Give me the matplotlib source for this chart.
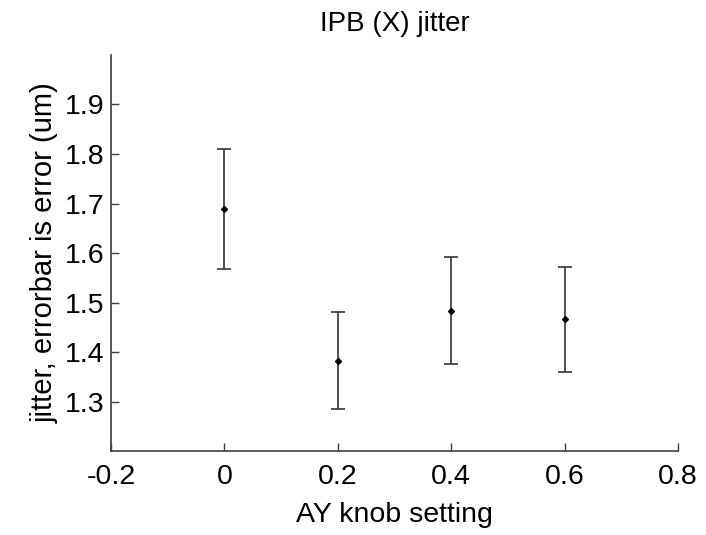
import matplotlib
matplotlib.use("Agg")
import matplotlib.pyplot as plt

knob = [0.0, 0.2, 0.4, 0.6]
jitter = [1.689, 1.382, 1.483, 1.466]
err = [0.121, 0.098, 0.108, 0.106]
xticks = [-0.2, 0, 0.2, 0.4, 0.6, 0.8]
xticklabels = ["-0.2", "0", "0.2", "0.4", "0.6", "0.8"]
yticks = [1.3, 1.4, 1.5, 1.6, 1.7, 1.8, 1.9]
yticklabels = ["1.3", "1.4", "1.5", "1.6", "1.7", "1.8", "1.9"]

plt.rcParams['font.family'] = ['Liberation Sans', 'DejaVu Sans']

fig = plt.figure(figsize=(7.06, 5.35), dpi=100)
ax = fig.add_axes([0.1572, 0.157, 0.8031, 0.7402])

ax.errorbar(knob, jitter, yerr=err, fmt='D', color='#333333', ecolor='#333333',
            markerfacecolor='black', markeredgecolor='black', markersize=3,
            elinewidth=1.2, capsize=5, capthick=1.2)

ax.set_xlim(-0.2, 0.8)
ax.set_ylim(1.2, 2.0)
ax.set_xticks(xticks)
ax.set_xticklabels(xticklabels)
ax.set_yticks(yticks)
ax.set_yticklabels(yticklabels)

for s in ['top', 'right']:
    ax.spines[s].set_visible(False)
for s in ['left', 'bottom']:
    ax.spines[s].set_color('#404040')
    ax.spines[s].set_linewidth(1.2)

ax.tick_params(direction='in', length=6, width=1, colors='#404040',
               labelcolor='black', labelsize=20.5)
ax.tick_params(axis='x', pad=9)
ax.tick_params(axis='y', pad=5)

ax.set_title("IPB (X) jitter", fontsize=20, pad=17)
ax.set_xlabel("AY knob setting", fontsize=20.5, labelpad=9)
ax.set_ylabel("jitter, errorbar is error (um)", fontsize=21, labelpad=4)

fig.savefig("out.png", dpi=100, facecolor='white')
